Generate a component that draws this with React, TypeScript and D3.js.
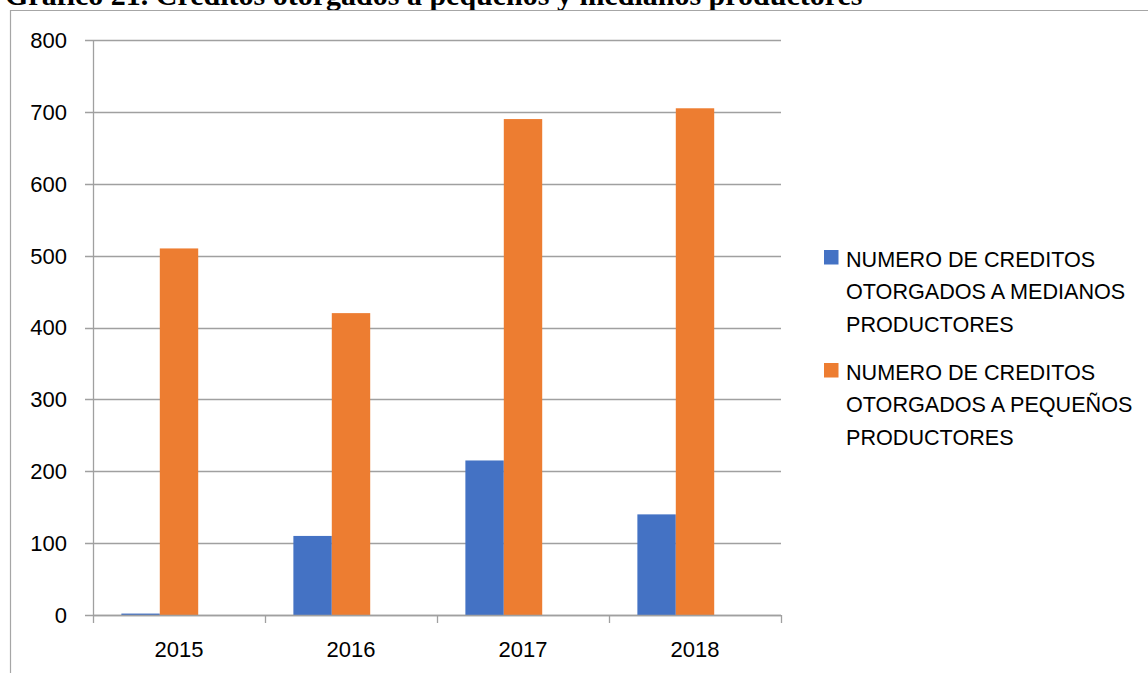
import React from "react";
import * as d3 from "d3";

const years = ["2015", "2016", "2017", "2018"];
const medianos = [2, 110, 215, 140];
const pequenos = [510, 420, 690, 705];
const yTicks = [0, 100, 200, 300, 400, 500, 600, 700, 800];
const seriesKeys = ["med", "peq", "empty"];
const seriesColors: Record<string, string> = { med: "#4472C4", peq: "#ED7D31" };
const legendLabels = [
  ["NUMERO DE CREDITOS", "OTORGADOS A MEDIANOS", "PRODUCTORES"],
  ["NUMERO DE CREDITOS", "OTORGADOS A PEQUEÑOS", "PRODUCTORES"],
];
const title = "Gráfico 21. Creditos otorgados a pequeños y medianos productores";

const W = 1148;
const H = 673;
const plot = { left: 93, right: 781, top: 40, bottom: 615 };

export default function App() {
  const x0 = d3
    .scaleBand<string>()
    .domain(years)
    .range([plot.left, plot.right])
    .paddingInner(0.33)
    .paddingOuter(0.165);
  const x1 = d3.scaleBand<string>().domain(seriesKeys).range([0, x0.bandwidth()]);
  const y = d3.scaleLinear().domain([0, 800]).range([plot.bottom, plot.top]);
  const step = x0.step();
  const boundaries = years.map((yr) => (x0(yr) as number) - (step - x0.bandwidth()) / 2).concat([plot.right]);

  const sans = "'Liberation Sans', Arial, sans-serif";
  const series = [
    { key: "med", values: medianos },
    { key: "peq", values: pequenos },
  ];

  return (
    <svg
      width={W}
      height={H}
      style={{ position: "absolute", left: 0, top: 0, background: "#fff" }}
    >
      <rect x={0} y={0} width={W} height={H} fill="#fff" />
      <text
        x={5}
        y={5}
        fontFamily="'Liberation Serif', 'Times New Roman', serif"
        fontWeight="bold"
        fontSize={30}
        fill="#000"
      >
        {title}
      </text>
      <path d={`M10.5,${H + 5} V10.5 H${W + 5}`} fill="none" stroke="#a6a6a6" strokeWidth={1.2} />

      {/* gridlines + y ticks */}
      {yTicks.map((t) => (
        <g key={t}>
          <line
            x1={plot.left - 8}
            x2={plot.right}
            y1={Math.round(y(t)) + 0.5}
            y2={Math.round(y(t)) + 0.5}
            stroke="#a0a0a0"
            strokeWidth={1.3}
          />
          <text
            x={67}
            y={y(t)}
            dy="0.36em"
            textAnchor="end"
            fontFamily={sans}
            fontSize={22}
            fill="#000"
          >
            {t}
          </text>
        </g>
      ))}
      {/* y axis line */}
      <line x1={plot.left + 0.5} x2={plot.left + 0.5} y1={plot.top} y2={plot.bottom} stroke="#a0a0a0" strokeWidth={1.3} />

      {/* bars */}
      {series.map((s) =>
        years.map((yr, i) => (
          <rect
            key={s.key + yr}
            x={(x0(yr) as number) + (x1(s.key) as number)}
            y={y(s.values[i])}
            width={x1.bandwidth()}
            height={y(0) - y(s.values[i])}
            fill={seriesColors[s.key]}
          />
        ))
      )}

      {/* x axis */}
      <line x1={plot.left} x2={plot.right} y1={plot.bottom + 0.5} y2={plot.bottom + 0.5} stroke="#a0a0a0" strokeWidth={1.3} />
      {boundaries.map((b, i) => (
        <line
          key={i}
          x1={Math.round(b) + 0.5}
          x2={Math.round(b) + 0.5}
          y1={plot.bottom}
          y2={plot.bottom + 8}
          stroke="#a0a0a0"
          strokeWidth={1.3}
        />
      ))}
      {years.map((yr) => (
        <text
          key={yr}
          x={(x0(yr) as number) + x0.bandwidth() / 2}
          y={649}
          dy="0.36em"
          textAnchor="middle"
          fontFamily={sans}
          fontSize={22}
          fill="#000"
        >
          {yr}
        </text>
      ))}

      {/* legend */}
      {series.map((s, i) => {
        const top = 250 + i * 113;
        return (
          <g key={s.key}>
            <rect x={824} y={top} width={14.5} height={14.5} fill={seriesColors[s.key]} />
            {legendLabels[i].map((line, j) => (
              <text
                key={j}
                x={846}
                y={top + 16.5 + j * 32.5}
                fontFamily={sans}
                fontSize={21.6}
                fill="#000"
              >
                {line}
              </text>
            ))}
          </g>
        );
      })}
    </svg>
  );
}
